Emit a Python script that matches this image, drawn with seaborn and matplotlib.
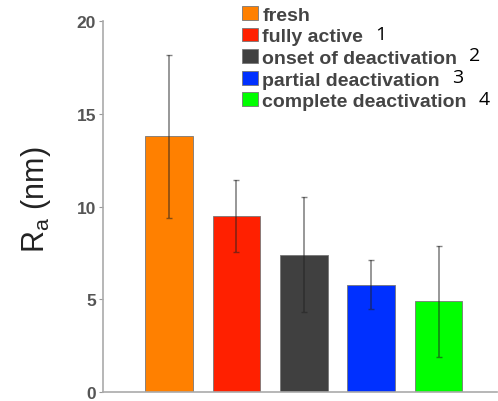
import matplotlib
matplotlib.use('Agg')
import matplotlib.pyplot as plt
import seaborn as sns
import pandas as pd

stages = ['fresh', 'fully active', 'onset of deactivation', 'partial deactivation', 'complete deactivation']
stage_numbers = ['', '1', '2', '3', '4']
ra_mean = [13.8, 9.5, 7.4, 5.8, 4.9]
ra_err = [4.4, 1.95, 3.1, 1.3, 3.0]
bar_colors = ['#ff8000', '#ff2000', '#404040', '#0030ff', '#00ff00']

df = pd.DataFrame({'stage': stages, 'ra': ra_mean})

sns.set_style('white')
plt.rcParams['font.family'] = ['Liberation Sans', 'DejaVu Sans']

fig = plt.figure(figsize=(4.98, 4.02), dpi=100)
ax = fig.add_axes([0.207, 0.022, 0.79, 0.923])

sns.barplot(data=df, x='stage', y='ra', hue='stage', palette=bar_colors,
            order=stages, hue_order=stages, width=0.71, errorbar=None,
            saturation=1, edgecolor='#777777', linewidth=0.6, dodge=False,
            legend=True, ax=ax)

ax.errorbar(range(len(stages)), ra_mean, yerr=ra_err, fmt='none',
            ecolor='#222222', alpha=0.55, elinewidth=1.2, capsize=2.5, capthick=1)

ax.set_xlim(-0.98, 4.86)
ax.set_ylim(0, 20)
ax.set_yticks([0, 5, 10, 15, 20])
ax.set_xticks([])
ax.set_xlabel('')
ax.set_ylabel(r'R$_\mathregular{a}$ (nm)', fontsize=22, color='#222222')
ax.yaxis.set_label_coords((53 - 103) / 393, (393 - 200) / 371)

for lab in ax.get_yticklabels():
    lab.set_fontweight('bold')
    lab.set_fontsize(12.5)
    lab.set_color('#555555')
ax.tick_params(axis='y', direction='out', length=3, width=0.8, color='#999999', left=True, pad=2)

sns.despine(ax=ax, top=True, right=True)
for s in ['left', 'bottom']:
    ax.spines[s].set_color('#aaaaaa')
    ax.spines[s].set_linewidth(1.2)

leg = ax.legend(loc='upper left', bbox_to_anchor=(242 / 498, 1 - 7 / 402),
                bbox_transform=fig.transFigure, frameon=False,
                handlelength=0.82, handleheight=0.72, handletextpad=0.22,
                labelspacing=0.2, borderpad=0, borderaxespad=0,
                prop={'weight': 'bold', 'size': 14})
for t in leg.get_texts():
    t.set_color('#444444')

fig.canvas.draw()
inv = fig.transFigure.inverted()
for t, num in zip(leg.get_texts(), stage_numbers):
    if not num:
        continue
    bb = t.get_window_extent()
    x0, y0 = inv.transform((bb.x1 + 12, (bb.y0 + bb.y1) / 2 + 3))
    fig.text(x0, y0, num, fontsize=14, family=['Open Sans', 'DejaVu Sans'],
             color='black', va='center', ha='left')

fig.savefig('out.png', dpi=100)
